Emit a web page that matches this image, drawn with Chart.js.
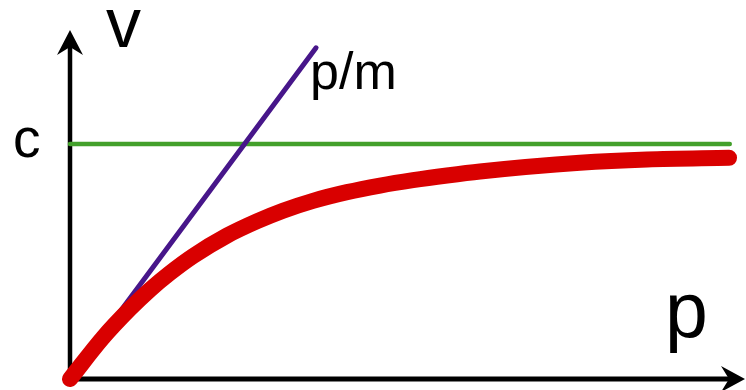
<!DOCTYPE html>
<html>
<head>
<meta charset="utf-8">
<script src="https://cdn.jsdelivr.net/npm/chart.js@4"></script>
<style>
html,body{margin:0;padding:0;background:#fff;}
#wrap{width:746px;height:390px;}
</style>
</head>
<body>
<div id="wrap"><canvas id="c"></canvas></div>
<script>
// momentum p (0..10 across the plot), speed v in units of c
const curveP=[0,0.488,0.888,1.183,1.479,1.82,2.322,2.766,3.151,3.595,4.098,4.586,5.074,5.577,6.065,7.544,8.536,9.749];
const curveV=[0,0.176,0.299,0.380,0.451,0.523,0.610,0.671,0.716,0.758,0.795,0.823,0.846,0.866,0.883,0.920,0.934,0.941];
const classicP=[0,3.64];
const classicV=[0,1.409];
const lightP=[0,9.76];
const lightV=[1,1];
const labels={v:'v',p:'p',c:'c',pm:'p/m'};

const pts=(xs,ys)=>xs.map((x,i)=>({x,y:ys[i]}));
const FONT='"Liberation Sans", Arial, sans-serif';

const axes={
  id:'axes',
  beforeDatasetsDraw(chart){
    const {ctx,chartArea:a}=chart;
    const x0=chart.scales.x.getPixelForValue(0), y0=chart.scales.y.getPixelForValue(0);
    ctx.save();
    ctx.strokeStyle='#000'; ctx.fillStyle='#000';
    ctx.lineWidth=4.5;
    ctx.beginPath(); ctx.moveTo(x0,y0+2); ctx.lineTo(x0,a.top+12); ctx.stroke();
    ctx.lineWidth=5;
    ctx.beginPath(); ctx.moveTo(x0-2,y0); ctx.lineTo(a.right-14,y0); ctx.stroke();
    // arrow heads
    ctx.beginPath(); ctx.moveTo(x0,a.top); ctx.lineTo(x0+13,a.top+25); ctx.lineTo(x0,a.top+17); ctx.lineTo(x0-13,a.top+25); ctx.closePath(); ctx.fill();
    const tx=a.right-1;
    ctx.beginPath(); ctx.moveTo(tx,y0); ctx.lineTo(tx-24,y0-13); ctx.lineTo(tx-16,y0); ctx.lineTo(tx-24,y0+13); ctx.closePath(); ctx.fill();
    ctx.restore();
  },
  afterDatasetsDraw(chart){
    const {ctx}=chart, sx=chart.scales.x, sy=chart.scales.y;
    ctx.save(); ctx.fillStyle='#000'; ctx.textAlign='left'; ctx.textBaseline='alphabetic';
    ctx.font='70px '+FONT; ctx.fillText(labels.v,106,47);
    ctx.font='52px '+FONT; ctx.fillText(labels.pm,sx.getPixelForValue(classicP[1])-6,89);
    ctx.font='55px '+FONT; ctx.fillText(labels.c,13,sy.getPixelForValue(lightV[0])+13);
    ctx.font='77px '+FONT; ctx.fillText(labels.p,665,337);
    ctx.restore();
  }
};

new Chart(document.getElementById('c'),{
  type:'scatter',
  data:{datasets:[
    {label:'relativistic',data:pts(curveP,curveV),showLine:true,borderColor:'#d90000',borderWidth:16,borderCapStyle:'round',borderJoinStyle:'round',cubicInterpolationMode:'monotone',pointRadius:0,clip:false,order:0},
    {label:'p/m',data:pts(classicP,classicV),showLine:true,borderColor:'#47168a',borderWidth:5,borderCapStyle:'round',pointRadius:0,clip:false,order:1},
    {label:'c',data:pts(lightP,lightV),showLine:true,borderColor:'#43a02b',borderWidth:4.5,borderCapStyle:'round',pointRadius:0,clip:false,order:2}
  ]},
  options:{
    responsive:true,maintainAspectRatio:false,animation:false,
    layout:{padding:{left:70,right:0,top:30,bottom:11}},
    plugins:{legend:{display:false},tooltip:{enabled:false}},
    scales:{
      x:{type:'linear',min:0,max:10,display:false},
      y:{type:'linear',min:0,max:1.485,display:false}
    }
  },
  plugins:[axes]
});
</script>
</body>
</html>
